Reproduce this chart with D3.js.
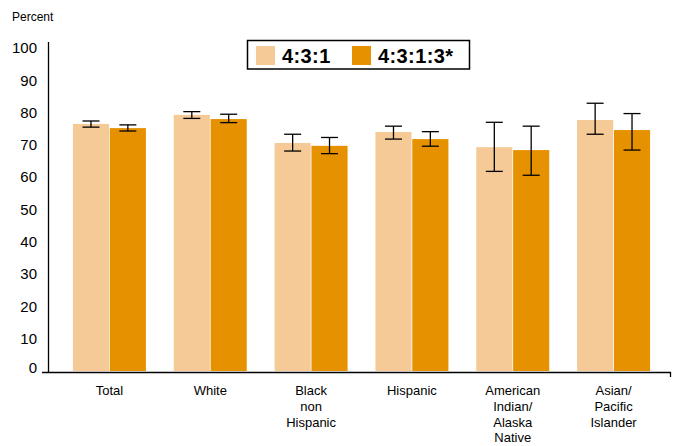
<!DOCTYPE html>
<html>
<head>
<meta charset="utf-8">
<script src="https://cdn.jsdelivr.net/npm/d3@7"></script>
<style>
  html, body { margin: 0; padding: 0; background: #fff; }
  svg { display: block; font-family: "Liberation Sans", Arial, sans-serif; }
</style>
</head>
<body>
<svg id="chart" width="678" height="446"></svg>
<script>
// Categories (multi-line labels split on "|")
const categories = ["Total", "White", "Black|non|Hispanic", "Hispanic", "American|Indian/|Alaska|Native", "Asian/|Pacific|Islander"];
const seriesNames = ["4:3:1", "4:3:1:3*"];
// Percent up to date, per series
const values431 = [76.5, 79.3, 70.6, 74.0, 69.3, 77.7];
const values4313 = [75.2, 78.0, 69.7, 71.8, 68.4, 74.6];
// Confidence interval bounds
const low431 = [75.5, 78.2, 68.1, 71.8, 61.8, 73.3];
const high431 = [77.4, 80.3, 73.3, 75.8, 77.0, 82.9];
const low4313 = [74.3, 76.9, 67.3, 69.6, 60.6, 68.4];
const high4313 = [76.2, 79.5, 72.3, 74.1, 75.8, 79.7];
const yTicks = [0, 10, 20, 30, 40, 50, 60, 70, 80, 90, 100];

const colors = ["#F5CA96", "#E69200"];
const series = [
  { name: seriesNames[0], values: values431, low: low431, high: high431 },
  { name: seriesNames[1], values: values4313, low: low4313, high: high4313 }
];

const svg = d3.select("#chart");

const y = d3.scaleLinear().domain([0, 100]).range([371, 48]);
const x0 = d3.scaleBand().domain(categories).range([59, 664]).paddingInner(0.276).paddingOuter(0.138);
const x1 = d3.scaleBand().domain(seriesNames).range([0, x0.bandwidth()]).paddingInner(0.02);

// y axis line and labels
svg.append("line")
  .attr("x1", 48.5).attr("x2", 48.5).attr("y1", 42).attr("y2", 372.5)
  .attr("stroke", "#000").attr("stroke-width", 1.3);
svg.append("g").selectAll("text").data(yTicks).join("text")
  .attr("x", 37).attr("y", d => y(d) - (d === 0 ? 3 : 0))
  .attr("dy", "0.35em").attr("text-anchor", "end")
  .attr("font-size", 15).attr("fill", "#000")
  .text(d => d);

svg.append("text").attr("x", 12).attr("y", 21).attr("font-size", 12).text("Percent");

// bars
const groups = svg.append("g").selectAll("g").data(categories).join("g")
  .attr("transform", d => `translate(${x0(d)},0)`);

series.forEach((s, si) => {
  groups.append("rect")
    .attr("x", x1(s.name))
    .attr("width", x1.bandwidth())
    .attr("y", (d, i) => y(s.values[i]))
    .attr("height", (d, i) => y(0) - y(s.values[i]))
    .attr("fill", colors[si]);
});

// error bars
series.forEach(s => {
  const cx = x1(s.name) + x1.bandwidth() / 2;
  const cap = 8.5;
  const eb = groups.append("g").attr("stroke", "#000").attr("stroke-width", 1.3);
  eb.append("line")
    .attr("x1", cx).attr("x2", cx)
    .attr("y1", (d, i) => y(s.high[i])).attr("y2", (d, i) => y(s.low[i]));
  eb.append("line")
    .attr("x1", cx - cap).attr("x2", cx + cap)
    .attr("y1", (d, i) => y(s.high[i])).attr("y2", (d, i) => y(s.high[i]));
  eb.append("line")
    .attr("x1", cx - cap).attr("x2", cx + cap)
    .attr("y1", (d, i) => y(s.low[i])).attr("y2", (d, i) => y(s.low[i]));
});

// x axis line with end tick
svg.append("path")
  .attr("d", `M42,372.5H670.5V377`)
  .attr("fill", "none").attr("stroke", "#000").attr("stroke-width", 1.3);

// category labels
const lab = svg.append("g").selectAll("text").data(categories).join("text")
  .attr("x", d => x0(d) + x0.bandwidth() / 2)
  .attr("y", 395)
  .attr("text-anchor", "middle").attr("font-size", 13).attr("fill", "#000");
lab.each(function(d) {
  const t = d3.select(this);
  d.split("|").forEach((line, i) => {
    t.append("tspan").attr("x", x0(d) + x0.bandwidth() / 2).attr("dy", i === 0 ? 0 : 15.8).text(line);
  });
});

// legend
const lg = svg.append("g");
lg.append("rect").attr("x", 247.5).attr("y", 40.5).attr("width", 222).attr("height", 28.5)
  .attr("fill", "#fff").attr("stroke", "#000").attr("stroke-width", 1.5);
const lx = [256, 352];
series.forEach((s, si) => {
  lg.append("rect").attr("x", lx[si]).attr("y", 46).attr("width", 19).attr("height", 19).attr("fill", colors[si]);
  lg.append("text").attr("x", lx[si] + 26).attr("y", 62.5)
    .attr("font-size", 20).attr("font-weight", "bold").attr("letter-spacing", 0.4).text(s.name);
});
</script>
</body>
</html>
